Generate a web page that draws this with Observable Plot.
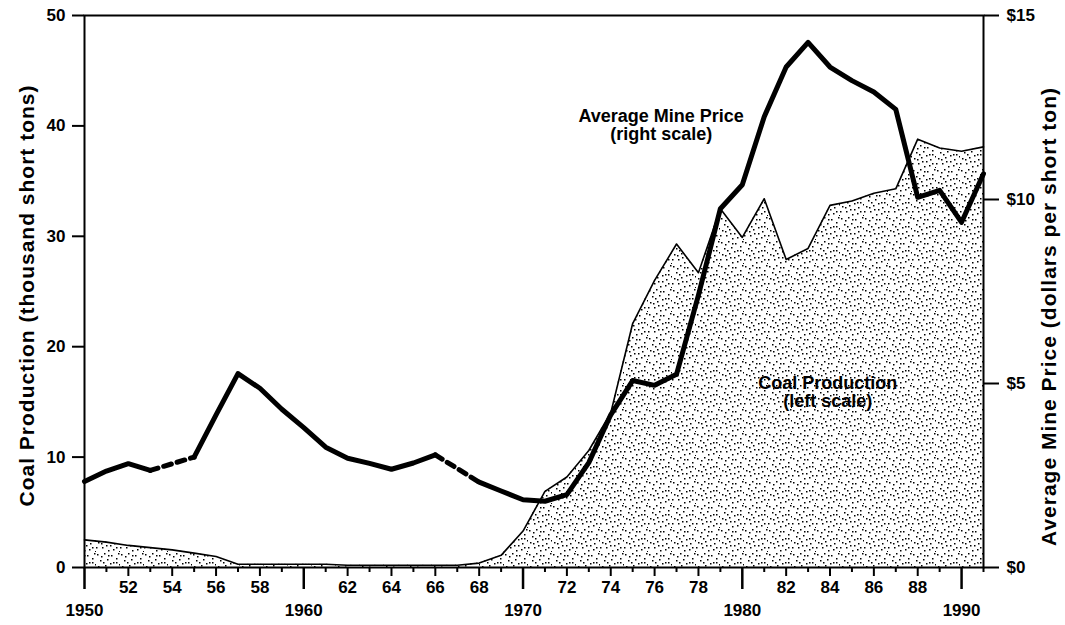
<!DOCTYPE html>
<html><head><meta charset="utf-8">
<script src="https://cdn.jsdelivr.net/npm/d3@7"></script>
<script src="https://cdn.jsdelivr.net/npm/@observablehq/plot@0.6"></script>
<style>
body{margin:0;background:#fff;}
</style></head><body><div id="chart"></div>
<script>
const years = [1950,1951,1952,1953,1954,1955,1956,1957,1958,1959,
  1960,1961,1962,1963,1964,1965,1966,1967,1968,1969,
  1970,1971,1972,1973,1974,1975,1976,1977,1978,1979,
  1980,1981,1982,1983,1984,1985,1986,1987,1988,1989,1990,1991];
// Coal production, thousand short tons (left scale)
const production = [2.5,2.3,2.0,1.8,1.6,1.3,1.0,0.3,0.3,0.3,
  0.3,0.3,0.2,0.2,0.2,0.2,0.2,0.2,0.4,1.1,
  3.3,6.9,8.2,10.6,14.0,22.1,26.0,29.3,26.7,32.5,
  29.9,33.4,27.9,28.9,32.8,33.2,33.9,34.3,38.8,38.0,37.7,38.1];
// Average mine price, dollars per short ton (right scale); null = no data
const price = [2.34,2.62,2.82,2.64,null,3.0,4.15,5.27,4.87,4.3,
  3.8,3.27,2.97,2.83,2.67,2.84,3.06,null,2.32,2.08,
  1.84,1.8,1.98,2.85,4.15,5.08,4.95,5.25,7.4,9.75,
  10.4,12.25,13.6,14.27,13.6,13.23,12.92,12.45,10.06,10.25,9.38,10.7];
const leftTicks = [0,10,20,30,40,50];
const rightTicks = [0,5,10,15];
const decadeYears = [1950,1960,1970,1980,1990];
const evenYears = [1952,1954,1956,1958,1962,1964,1966,1968,1972,1974,1976,1978,1982,1984,1986,1988];
const oddYears = years.filter(y => y % 2 === 1);
const leftTitle = "Coal Production (thousand short tons)";
const rightTitle = "Average Mine Price (dollars per short ton)";
const notes = [
  {label: "Average Mine Price\n(right scale)", year: 1976.3, value: 40.1},
  {label: "Coal Production\n(left scale)", year: 1983.9, value: 15.9}
];

const k = leftTicks[leftTicks.length - 1] / rightTicks[rightTicks.length - 1];
const data = years.map((year, i) => ({year, production: production[i], price: price[i]}));
const gaps = [];
price.forEach((p, i) => {
  if (p == null) {
    gaps.push({year: years[i - 1], price: price[i - 1], seg: i});
    gaps.push({year: years[i + 1], price: price[i + 1], seg: i});
  }
});

const font = "'Liberation Sans', Arial, Helvetica, sans-serif";
const chart = Plot.plot({
  width: 1065, height: 625,
  marginLeft: 84, marginRight: 82, marginTop: 15, marginBottom: 58,
  x: {domain: [1950, 1991]},
  y: {domain: [0, 50]},
  style: {fontFamily: font, fontSize: "17px", fontWeight: "bold", color: "black", background: "white", overflow: "visible"},
  marks: [
    Plot.areaY(data, {x: "year", y: "production", fill: "url(#stipple)"}),
    Plot.lineY(data, {x: "year", y: "production", stroke: "black", strokeWidth: 1.6}),
    Plot.lineY(data, {x: "year", y: d => d.price == null ? NaN : d.price * k, stroke: "black", strokeWidth: 5, strokeLinejoin: "round"}),
    Plot.lineY(gaps, {x: "year", y: d => d.price * k, z: "seg", stroke: "black", strokeWidth: 5, strokeDasharray: "8,6"}),
    Plot.frame({stroke: "black", strokeWidth: 2}),
    Plot.axisY({ticks: leftTicks, tickSize: 12, tickPadding: 7, strokeWidth: 2, label: null, fontSize: 17}),
    Plot.axisY({anchor: "right", ticks: rightTicks.map(t => t * k), tickFormat: d => "$" + Math.round(d / k), tickSize: 15, tickPadding: 8, strokeWidth: 2, label: null, fontSize: 17}),
    Plot.axisX({ticks: oddYears, tickSize: 5, tickFormat: () => "", strokeWidth: 2, label: null}),
    Plot.axisX({ticks: evenYears, tickSize: 9, tickPadding: 4, tickFormat: d => String(d).slice(2), strokeWidth: 2, label: null, fontSize: 17}),
    Plot.axisX({ticks: decadeYears, tickSize: 22, tickPadding: 14, tickFormat: d => String(d), strokeWidth: 2.5, label: null, fontSize: 17}),
    Plot.text(notes, {x: "year", y: "value", text: "label", fontSize: 18, fontWeight: "bold", lineHeight: 1.0, fill: "black"}),
    Plot.text([leftTitle], {frameAnchor: "left", textAnchor: "middle", text: d => d, dx: -57, dy: 4, rotate: -90, fontSize: 21, fontWeight: "bold"}),
    Plot.text([rightTitle], {frameAnchor: "right", textAnchor: "middle", text: d => d, dx: 66, dy: 25, rotate: -90, fontSize: 21, fontWeight: "bold"})
  ]
});

const svg = d3.select(chart);
svg.selectAll("text").filter(function() { return this.textContent === leftTitle || this.textContent === rightTitle; })
  .style("letter-spacing", "1px");
const defs = svg.insert("defs", ":first-child");
const pat = defs.append("pattern").attr("id", "stipple").attr("patternUnits", "userSpaceOnUse").attr("width", 24).attr("height", 24);
pat.append("rect").attr("width", 24).attr("height", 24).attr("fill", "white");
[[1,2],[8,1],[15,3],[20,6],[4,8],[11,7],[17,10],[23,12],[2,14],[9,13],[14,17],[20,19],[6,19],[12,22],[18,15],[5,4],
 [12,3],[22,1],[7,10],[14,11],[0,19],[17,21],[23,23],[5,15],[10,17],[20,10]]
  .forEach(([x, y]) => pat.append("rect").attr("x", x).attr("y", y).attr("width", 1.5).attr("height", 1.5).attr("fill", "black"));
document.getElementById("chart").appendChild(chart);
</script></body></html>
